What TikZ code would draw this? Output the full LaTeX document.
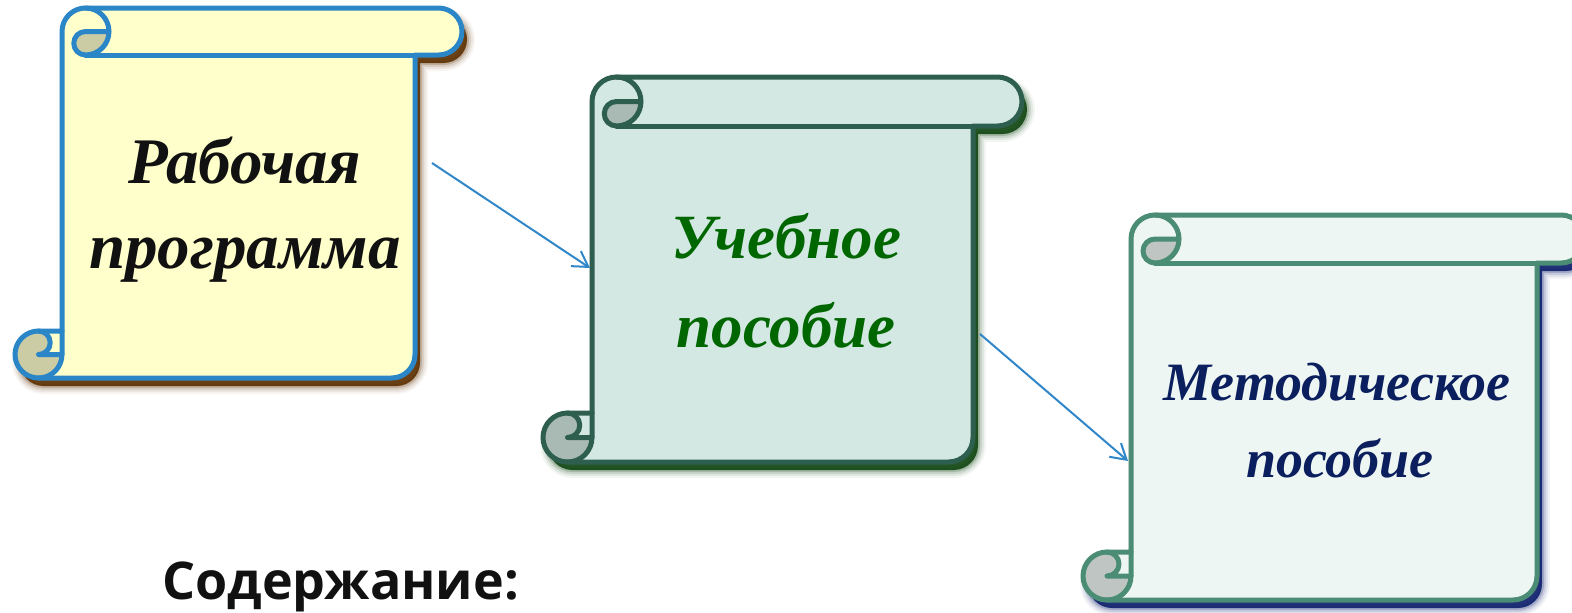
\documentclass[tikz,border=0pt]{standalone}
\usepackage{fontspec}
\setmainfont{Liberation Serif}
\newfontfamily\headfont{Open Sans}
\usetikzlibrary{arrows.meta}

\definecolor{yelFill}{HTML}{FFFFCC}
\definecolor{yelCurl}{HTML}{CCCCA4}
\definecolor{yelLine}{HTML}{2A86C7}
\definecolor{yelShade}{HTML}{5C2E00}
\definecolor{grnFill}{HTML}{D3E8E3}
\definecolor{grnCurl}{HTML}{A9BAB5}
\definecolor{grnLine}{HTML}{2E5E4E}
\definecolor{grnShade}{HTML}{0F4510}
\definecolor{bluFill}{HTML}{EEF6F3}
\definecolor{bluCurl}{HTML}{BEC5C2}
\definecolor{bluLine}{HTML}{4A8C74}
\definecolor{bluShade}{HTML}{0D1E6B}
\definecolor{arrowBlue}{HTML}{2F86C9}
\definecolor{txtBlack}{HTML}{111111}
\definecolor{txtGreen}{HTML}{006600}
\definecolor{txtNavy}{HTML}{0B1F5E}

% outline of a vertical scroll in local coordinates (origin = top-left, y downwards)
\newcommand\scrollOutline{%
  (\scC,\scYa) -- (\scC,\scHf)
  arc[start angle=180,delta angle=90,radius=\scHf] -- (\scXd,0)
  arc[start angle=270,delta angle=180,radius=\scHf] -- (\scXc,\scC) -- (\scXc,\scYb)
  arc[start angle=0,delta angle=90,radius=\scHf] -- (\scHf,\scH)
  arc[start angle=90,delta angle=180,radius=\scHf] -- cycle}

% #1 left, #2 top, #3 right, #4 bottom, #5 curl diameter,
% #6 fill, #7 line colour, #8 curl colour, #9 shadow colour
\newcommand\drawScroll[9]{%
  \pgfmathsetmacro\scW{#3-#1}%
  \pgfmathsetmacro\scH{#4-#2}%
  \pgfmathsetmacro\scC{#5}%
  \pgfmathsetmacro\scHf{#5/2}%
  \pgfmathsetmacro\scQ{#5/4}%
  \pgfmathsetmacro\scXa{1.5*#5}%
  \pgfmathsetmacro\scXb{2*#5}%
  \pgfmathsetmacro\scXc{\scW-#5}%
  \pgfmathsetmacro\scXd{\scW-#5/2}%
  \pgfmathsetmacro\scYa{\scH-#5}%
  \pgfmathsetmacro\scYb{\scH-#5/2}%
  \begin{scope}[shift={(#1,#2)}]
    % soft drop shadow
    \begin{scope}[shift={(5,8)}]
      \draw[#9, line width=16, opacity=0.05, line join=round] \scrollOutline;
      \draw[#9, line width=12, opacity=0.08, line join=round] \scrollOutline;
      \draw[#9, line width=8, opacity=0.12, line join=round] \scrollOutline;
      \draw[#9, line width=4, opacity=0.2, line join=round] \scrollOutline;
      \fill[#9, opacity=0.9] \scrollOutline;
    \end{scope}
    \fill[#6] \scrollOutline;
    \fill[#8] (\scXb,\scHf) arc[start angle=0,delta angle=90,radius=\scHf]
      arc[start angle=90,delta angle=180,radius=\scQ] -- cycle;
    \fill[#8] (\scC,\scYb) arc[start angle=0,delta angle=270,radius=\scHf]
      arc[start angle=270,delta angle=180,radius=\scQ] -- cycle;
    \begin{scope}[scrollline, draw=#7]
      \draw \scrollOutline;
      \draw (\scXa,0) arc[start angle=270,delta angle=180,radius=\scHf]
        arc[start angle=90,delta angle=180,radius=\scQ] -- (\scXb,\scHf);
      \draw (\scXc,\scC) -- (\scXa,\scC);
      \draw (\scHf,\scYa) arc[start angle=270,delta angle=180,radius=\scQ] -- (\scC,\scYb);
      \draw (\scHf,\scH) arc[start angle=90,delta angle=-90,radius=\scHf] -- (\scC,\scYa);
    \end{scope}
  \end{scope}}

\tikzset{
  scrollline/.style={line width=5, line join=round, line cap=round},
  scrolltext/.style={anchor=base, inner sep=0, font=\fontsize{#1}{#1}\selectfont\bfseries\itshape},
  link/.style={draw=arrowBlue, line width=2, -{Straight Barb[length=15, width=18]}},
  bodybox/.style={inner sep=0, draw=none}
}

\begin{document}
\begin{tikzpicture}[x=1pt, y=-1pt]
  \useasboundingbox (0,0) rectangle (1572,613);
  \clip (0,0) rectangle (1572,613);

  % scrolls
  \drawScroll{15}{8}{462}{378}{47}{yelFill}{yelLine}{yelCurl}{yelShade}
  \drawScroll{543}{77}{1022}{462}{49}{grnFill}{grnLine}{grnCurl}{grnShade}
  \drawScroll{1083}{215}{1585}{600}{48}{bluFill}{bluLine}{bluCurl}{bluShade}

  % scroll bodies
  \node[bodybox, minimum width=353, minimum height=323] (s1) at (238.5,216.5) {};
  \node[bodybox, minimum width=381, minimum height=335] (s2) at (782.5,294.5) {};
  \node[bodybox, minimum width=406, minimum height=337] (s3) at (1334,431.5) {};

  % labels
  \node[scrolltext=65, text=txtBlack] (t1a) at (245,183) {Рабочая};
  \node[scrolltext=65, text=txtBlack] (t1b) at (245,268) {программа};
  \node[scrolltext=63, text=txtGreen] (t2a) at (786,258) {Учебное};
  \node[scrolltext=63, text=txtGreen] (t2b) at (786,347) {пособие};
  \node[scrolltext=54, text=txtNavy] (t3a) at (1337,400) {Методическое};
  \node[scrolltext=54, text=txtNavy] (t3b) at (1340,477) {пособие};

  \node[anchor=base west, inner sep=0, text=txtBlack,
        font=\headfont\fontsize{52}{52}\selectfont\bfseries] (head) at (162,599) {Содержание:};

  % connectors
  \coordinate (a1) at (432,163);
  \coordinate (b1) at (590,268);
  \coordinate (a2) at (980,334);
  \coordinate (b2) at (1128,461);
  \draw[link] (a1) -- (b1);
  \draw[link] (a2) -- (b2);
\end{tikzpicture}
\end{document}
